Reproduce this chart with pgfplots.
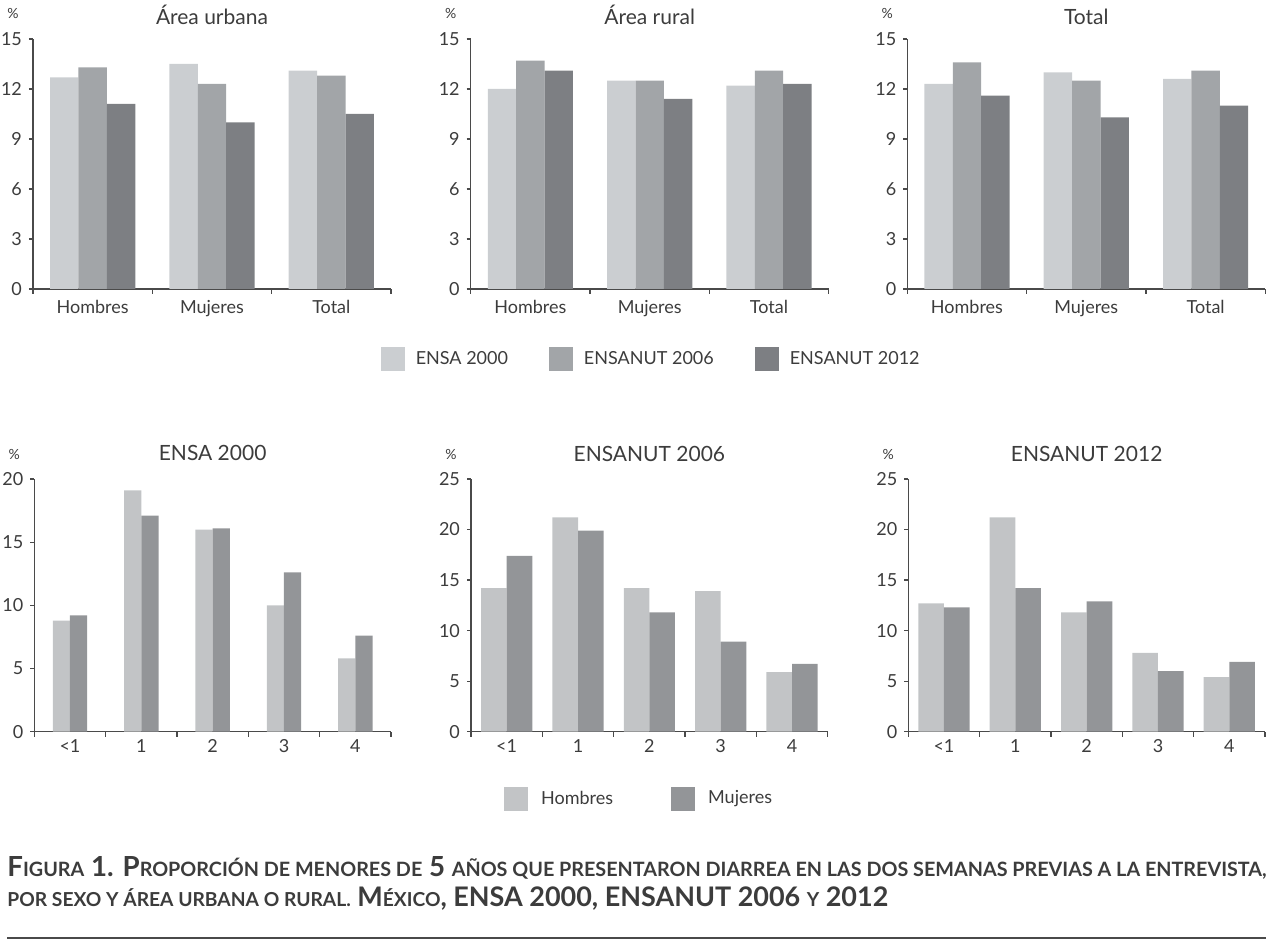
\documentclass[border=0pt]{standalone}
\usepackage{fontspec}
\setmainfont{Lato}
\usepackage{pgfplots}
\pgfplotsset{compat=1.18}
\usepackage{graphicx}

\definecolor{ca}{HTML}{CBCED1}
\definecolor{cb}{HTML}{A2A5A8}
\definecolor{cc}{HTML}{7D7F83}
\definecolor{ha}{HTML}{C2C4C6}
\definecolor{hb}{HTML}{939598}
\definecolor{txt}{HTML}{3C3C3C}
\definecolor{ax}{HTML}{4A4A4A}

\newcommand\sm[1]{{\fontsize{10}{12}\selectfont #1}}

\pgfplotsset{
  panel/.style={
    scale only axis, anchor=south west,
    axis lines*=left,
    ybar=0pt, ymin=0, enlarge x limits=false,
    tick align=outside,
    major tick length=2pt, minor tick length=2.5pt,
    major x tick style={draw=none},
    axis line style={ax, line width=0.6pt},
    tick style={ax, line width=0.6pt},
    tick label style={text=txt, font=\fontsize{9}{10}\selectfont},
    /pgf/number format/assume math mode=true,
    every axis title/.style={at={(0.5,1)}, anchor=base, text=txt,
      font=\fontsize{10.5}{12}\selectfont},
    ylabel={\%},
    every axis y label/.style={at={(rel axis cs:0,1)}, anchor=center,
      xshift=-10pt, yshift=12.5pt, text=txt, font=\fontsize{7}{8}\selectfont},
  },
  top/.style={panel, width=179pt, height=125pt, ymax=15, ytick={0,3,...,15},
    xmin=-0.5, xmax=2.5, xtick={0,1,2}, minor xtick={-0.5,0.5,1.5,2.5},
    xticklabels={Hombres,Mujeres,Total}, bar width=14.2pt, title style={yshift=7pt}},
  bot/.style={panel, width=178.35pt, height=126.35pt,
    xmin=-0.5, xmax=4.5, xtick={0,...,4}, minor xtick={-0.5,0.5,...,4.5},
    xticklabels={<1,1,2,3,4}, title style={yshift=9pt},
    xticklabel style={yshift=1.5pt}},
}

\begin{document}
\begin{tikzpicture}
\path[use as bounding box] (0,0) rectangle (635pt,471.5pt);

% --- top row ---
\begin{axis}[top, at={(16.5pt,327pt)}, title={Área urbana}]
\addplot[fill=ca, draw=none] coordinates {(0,12.7) (1,13.5) (2,13.1)};
\addplot[fill=cb, draw=none] coordinates {(0,13.3) (1,12.3) (2,12.8)};
\addplot[fill=cc, draw=none] coordinates {(0,11.1) (1,10.0) (2,10.5)};
\end{axis}

\begin{axis}[top, at={(235.35pt,327pt)}, title={Área rural},
  legend columns=3,
  legend image code/.code={\fill[#1] (0pt,-6pt) rectangle (12pt,6pt);},
  legend style={at={(0.507,-0.28)}, anchor=center, draw=none, fill=none,
    text=txt, font=\fontsize{9}{10}\selectfont, column sep=3.5pt,
    /tikz/every even column/.append style={column sep=18.5pt}}]
\addplot[fill=ca, draw=none] coordinates {(0,12.0) (1,12.5) (2,12.2)};
\addplot[fill=cb, draw=none] coordinates {(0,13.7) (1,12.5) (2,13.1)};
\addplot[fill=cc, draw=none] coordinates {(0,13.1) (1,11.4) (2,12.3)};
\legend{ENSA 2000, ENSANUT 2006, ENSANUT 2012}
\end{axis}

\begin{axis}[top, at={(453.65pt,327pt)}, title={Total}]
\addplot[fill=ca, draw=none] coordinates {(0,12.3) (1,13.0) (2,12.6)};
\addplot[fill=cb, draw=none] coordinates {(0,13.6) (1,12.5) (2,13.1)};
\addplot[fill=cc, draw=none] coordinates {(0,11.6) (1,10.3) (2,11.0)};
\end{axis}

% --- bottom row ---
\begin{axis}[bot, at={(17.15pt,105.65pt)}, title={ENSA 2000},
  ymax=20, ytick={0,5,...,20}, bar width=8.6pt]
\addplot[fill=ha, draw=none] coordinates {(0,8.8) (1,19.1) (2,16.0) (3,10.0) (4,5.8)};
\addplot[fill=hb, draw=none] coordinates {(0,9.2) (1,17.1) (2,16.1) (3,12.6) (4,7.6)};
\end{axis}

\begin{axis}[bot, at={(235.5pt,105.65pt)}, title={ENSANUT 2006},
  ymax=25, ytick={0,5,...,25}, bar width=12.8pt,
  legend columns=2,
  legend image code/.code={\fill[#1] (0pt,-6pt) rectangle (12pt,6pt);},
  legend style={at={(0.474,-0.266)}, anchor=center, draw=none, fill=none,
    text=txt, font=\fontsize{9}{10}\selectfont, column sep=4.5pt,
    /tikz/every even column/.append style={column sep=27pt}}]
\addplot[fill=ha, draw=none] coordinates {(0,14.2) (1,21.2) (2,14.2) (3,13.9) (4,5.9)};
\addplot[fill=hb, draw=none] coordinates {(0,17.4) (1,19.9) (2,11.8) (3,8.9) (4,6.7)};
\legend{Hombres, Mujeres}
\end{axis}

\begin{axis}[bot, at={(454.15pt,105.65pt)}, title={ENSANUT 2012},
  ymax=25, ytick={0,5,...,25}, bar width=12.8pt]
\addplot[fill=ha, draw=none] coordinates {(0,12.7) (1,21.2) (2,11.8) (3,7.8) (4,5.4)};
\addplot[fill=hb, draw=none] coordinates {(0,12.3) (1,14.2) (2,12.9) (3,6.0) (4,6.9)};
\end{axis}

% --- caption ---
\node[anchor=base west, inner sep=0pt, text=txt, font=\bfseries\fontsize{14}{16}\selectfont]
  at (3.5pt,33pt) {\resizebox{629.5pt}{!}{F\sm{IGURA} 1. P\sm{ROPORCIÓN DE MENORES DE} 5 \sm{AÑOS QUE PRESENTARON DIARREA EN LAS DOS SEMANAS PREVIAS A LA ENTREVISTA,}}};
\node[anchor=base west, inner sep=0pt, text=txt, font=\bfseries\fontsize{14}{16}\selectfont]
  at (3.5pt,18pt) {\resizebox{440.5pt}{!}{\sm{POR SEXO Y ÁREA URBANA O RURAL.} M\sm{ÉXICO}, ENSA 2000, ENSANUT 2006 \sm{Y} 2012}};
\draw[ax, line width=0.7pt] (3.5pt,2.5pt) -- (633pt,2.5pt);
\end{tikzpicture}
\end{document}
